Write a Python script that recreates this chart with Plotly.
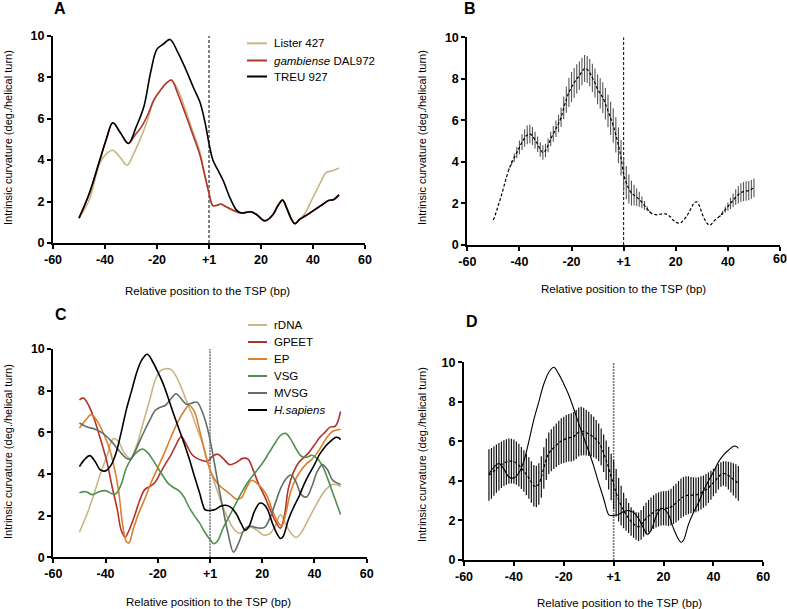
import plotly.graph_objects as go

W, H = 787, 609
FONT = "Liberation Sans, Arial, sans-serif"

# ---------------- Panel A data ----------------
treu_x = [-50,-46,-42,-39.5,-37,-34,-31,-28,-25,-22.5,-20,-17.5,-15,-12,-9,-6,-3.5,-1.5,0,1.5,3.5,5.5,8,10.5,12.5,14.5,16.5,18.5,21.5,24.5,26.5,28.3,30,31.5,33,35,37,40,43,46,48,50]
treu_y = [1.2,2.4,4.0,5.0,5.8,5.3,4.8,5.6,6.6,8.2,9.35,9.6,9.82,9.2,8.4,7.5,6.8,5.8,4.8,4.0,3.5,3.0,2.2,1.6,1.45,1.48,1.5,1.35,1.07,1.35,1.8,2.07,1.65,1.2,0.93,1.15,1.3,1.55,1.8,2.05,2.1,2.32]

lister_x = [-50,-46,-42,-39.5,-37,-34,-31.5,-29,-26.5,-24,-21.5,-19,-16.5,-14.5,-12,-9,-6,-3.5,-1.5,0,1.5,3,4.5,7,10.5,12.5,14.5,16.5,18.5,21.5,24.5,26.5,28.3,30,31.5,33,35,37,40,43,45,47.5,50]
lister_y = [1.2,2.1,3.85,4.3,4.47,4.1,3.75,4.3,5.0,5.8,6.8,7.3,7.7,7.86,7.4,6.4,5.3,4.4,3.2,2.4,1.8,1.8,1.87,1.7,1.5,1.45,1.48,1.5,1.35,1.07,1.35,1.8,2.07,1.65,1.2,0.93,1.15,1.45,2.2,2.95,3.4,3.48,3.62]

gamb_x = [-50,-46,-42,-39.5,-37,-34,-31,-28.5,-26,-23.5,-21,-18.5,-16.5,-14.5,-12,-9,-6,-3.5,-1.5,0,1.5,3,4.5,7,10.5,12.5,14.5,16.5,18.5,21.5,24.5,26.5,28.3,30,31.5,33,35,37,40,43,46,48,50]
gamb_y = [1.2,2.4,4.0,5.0,5.8,5.3,4.8,5.2,5.6,6.2,6.95,7.4,7.7,7.86,7.2,6.2,5.15,4.25,3.2,2.4,1.8,1.82,1.88,1.72,1.52,1.45,1.48,1.5,1.35,1.07,1.35,1.8,2.07,1.65,1.2,0.93,1.15,1.3,1.55,1.8,2.05,2.1,2.32]

# ---------------- Panel B data (mean +/- SEM, every bp) ----------------
pos_bp = list(range(-50, 51))
b_mean = [1.2,1.55,1.95,2.35,2.8,3.25,3.65,3.95,4.2,4.45,
          4.7,4.95,5.15,5.3,5.35,5.25,5.05,4.85,4.6,4.45,
          4.55,4.8,5.1,5.35,5.6,5.85,6.15,6.6,7.0,7.35,
          7.6,7.8,8.0,8.15,8.35,8.5,8.45,8.3,8.05,7.8,
          7.5,7.3,7.1,6.8,6.45,6.1,5.75,5.3,4.8,4.2,
          3.4,3.0,2.7,2.5,2.4,2.3,2.2,2.05,1.9,1.75,
          1.6,1.5,1.47,1.45,1.48,1.5,1.5,1.45,1.35,1.2,
          1.1,1.05,1.07,1.2,1.35,1.55,1.8,2.02,2.08,1.9,
          1.55,1.25,1.05,0.95,1.05,1.2,1.3,1.4,1.55,1.7,
          1.85,2.0,2.15,2.3,2.42,2.52,2.57,2.6,2.62,2.68,
          2.75]
b_sem = [0,0,0,0,0,0,0.05,0.12,0.2,0.27,
         0.33,0.38,0.42,0.45,0.45,0.43,0.4,0.37,0.35,0.35,
         0.33,0.33,0.35,0.38,0.4,0.42,0.47,0.55,0.63,0.7,
         0.73,0.72,0.7,0.68,0.66,0.65,0.65,0.66,0.68,0.7,
         0.72,0.73,0.74,0.76,0.78,0.8,0.83,0.85,0.86,0.85,
         0.82,0.8,0.7,0.6,0.5,0.42,0.36,0.28,0.22,0.12,
         0.05,0,0,0,0,0,0,0,0,0,
         0,0,0,0,0,0,0,0,0,0,
         0,0,0,0,0,0,0,0.05,0.1,0.15,
         0.2,0.27,0.33,0.38,0.42,0.45,0.46,0.47,0.46,0.45,
         0.45]

# ---------------- Panel C data ----------------
rdna_x = [-50,-47,-44.5,-42,-39.5,-37,-35,-33,-30.5,-28,-25.5,-23,-21,-19,-17,-15,-13,-11,-9,-7,-5,-3,-1.5,0,2.5,5,7.5,9.5,11.5,13.5,15.5,18,20.5,23,25,27,29,31,33,35,38,41,44,47,50]
rdna_y = [1.2,2.1,3.0,4.0,4.85,5.7,5.55,5.05,4.75,5.4,6.5,7.6,8.5,8.95,9.05,9.02,8.7,8.15,7.5,6.9,6.2,5.5,4.8,4.2,3.3,2.4,1.7,1.3,1.15,1.3,1.45,1.3,1.07,1.15,1.5,2.05,1.6,1.15,0.95,1.2,1.9,2.6,3.2,3.5,3.4]

gpeet_x = [-50,-48.5,-46.5,-44.5,-42,-39.5,-37.5,-35.5,-34,-32.5,-31,-29,-27,-25,-23,-21,-19,-17,-15,-13,-11,-9,-7,-5,-3,-1,1,3,5,7.5,10,12.5,14.5,16.5,18.5,21,23,25,27,28.5,30,32,34,36,38,40,42,44,46,48,50]
gpeet_y = [7.55,7.65,7.3,6.7,5.7,4.6,3.4,2.3,1.3,0.97,1.3,1.95,2.7,3.25,3.4,3.6,4.05,4.5,4.9,5.4,5.8,5.4,4.95,4.75,4.65,4.6,4.85,4.95,4.75,4.45,4.55,4.75,4.72,4.2,3.55,2.9,2.3,1.75,1.4,2.0,3.3,4.1,4.55,4.8,5.05,5.4,5.75,6.0,6.25,6.3,7.0]

ep_x = [-50,-47.5,-45.5,-43,-41,-39,-37,-35,-33.5,-32,-31,-29.5,-27.5,-25,-22.5,-20,-17.5,-15,-12.5,-10,-8,-6,-4,-2,0,2,4,6,8,10,12,14,16,18,20,22,24,26,27.5,29,31,33,35,37,39,41,43,45,47,50]
ep_y = [6.2,6.6,6.85,6.5,6.0,5.4,4.5,3.2,1.6,0.75,0.7,1.3,2.05,2.8,3.6,4.3,5.0,5.75,6.45,7.0,7.3,7.0,6.1,5.1,4.2,3.7,3.4,3.2,3.0,2.8,2.85,3.35,3.7,3.55,3.3,2.9,2.2,1.7,1.5,2.1,3.2,3.8,4.2,4.5,4.7,5.0,5.4,5.8,6.05,6.15]

vsg_x = [-50,-47.5,-45,-42.5,-40,-37.5,-36,-34,-32,-30,-28,-26,-24,-22,-20,-18,-16,-14,-12,-10,-8,-6,-4,-2,0,1.5,3,5,7.5,10,12.5,15,17.5,20,22.5,25,27,29,31,33,35,37,39,41,43,45,47,50]
vsg_y = [3.1,3.15,3.0,3.15,3.2,3.05,3.05,3.5,4.3,4.75,5.05,5.2,5.05,4.7,4.3,3.9,3.55,3.35,3.2,2.9,2.4,2.0,1.65,1.2,0.85,0.65,0.8,1.4,2.0,2.6,3.2,3.7,4.1,4.5,5.0,5.5,5.85,5.95,5.65,5.2,4.85,4.8,4.9,4.75,4.4,3.8,3.1,2.05]

mvsg_x = [-50,-47,-44,-41,-38,-36,-34,-32,-30.5,-29,-27,-25,-23,-21,-19,-17,-15,-13,-11,-9,-7,-5,-3,-1,1,3,5,7,9,11,13,15,17,19,21,23,25,27,29,31,33,35,37,39,41,43,45,47,50]
mvsg_y = [6.45,6.25,6.15,5.95,5.6,5.3,5.0,4.75,4.7,5.0,5.55,6.1,6.6,7.05,7.2,7.3,7.6,7.85,7.6,7.35,7.4,7.45,7.0,6.2,5.0,3.6,2.3,1.1,0.25,0.7,1.3,1.5,1.45,1.4,1.45,1.9,2.6,3.3,3.75,3.95,3.6,3.0,2.9,3.4,4.1,4.45,4.2,3.7,3.5]

hs_x = [-50,-48,-46,-44,-42,-40,-38,-36,-34,-32,-30,-28,-26,-24,-22,-20,-18,-16,-14,-12,-10,-8,-6,-4,-2,-1,0,2,4,6,8,10,12,13.5,15,17,19,20.5,22,24,26,27,28,30,32,34,36,38,40,42,44,46,48,49,50]
hs_y = [4.35,4.7,4.88,4.6,4.2,4.15,4.4,5.0,6.0,7.1,8.0,8.9,9.5,9.75,9.4,8.9,8.35,7.65,6.9,6.2,5.5,4.75,3.9,3.1,2.3,2.25,2.25,2.3,2.45,2.5,2.4,2.1,1.6,1.3,1.5,2.2,2.6,2.55,2.3,1.6,1.05,0.9,1.0,1.8,2.4,2.9,3.5,4.0,4.45,4.95,5.3,5.55,5.75,5.75,5.65]

# ---------------- Panel D data (mean +/- SEM of T. brucei promoters) ----------------
d_mean = [4.3,4.38,4.5,4.62,4.72,4.82,4.9,4.96,5.0,5.0,
          4.98,4.9,4.8,4.65,4.5,4.33,4.15,3.95,3.75,3.72,
          3.85,4.2,4.65,5.1,5.4,5.55,5.68,5.8,5.92,6.02,
          6.08,6.14,6.18,6.2,6.25,6.35,6.47,6.52,6.5,6.44,
          6.38,6.3,6.22,6.1,5.95,5.72,5.4,5.05,4.65,4.2,
          3.8,3.4,3.05,2.75,2.5,2.3,2.12,1.95,1.82,1.72,
          1.68,1.78,1.95,2.1,2.22,2.32,2.42,2.5,2.56,2.6,
          2.62,2.62,2.62,2.68,2.78,2.88,3.0,3.12,3.2,3.25,
          3.28,3.28,3.28,3.29,3.33,3.4,3.46,3.55,3.65,3.78,
          3.92,4.05,4.2,4.32,4.38,4.35,4.27,4.18,4.08,3.98,
          3.88]
d_sem = [1.3,1.28,1.25,1.22,1.2,1.18,1.16,1.15,1.14,1.13,
         1.12,1.1,1.08,1.06,1.05,1.05,1.05,1.05,1.05,1.05,
         1.05,1.05,1.05,1.05,1.05,1.06,1.08,1.1,1.12,1.15,
         1.17,1.19,1.2,1.22,1.23,1.24,1.24,1.23,1.2,1.16,
         1.12,1.07,1.02,0.98,0.95,0.93,0.95,1.0,1.08,1.18,
         1.25,1.2,1.1,1.0,0.9,0.82,0.76,0.72,0.7,0.7,
         0.72,0.75,0.78,0.8,0.82,0.84,0.85,0.86,0.86,0.86,
         0.86,0.87,0.9,0.93,0.96,0.98,1.0,1.0,1.0,0.98,
         0.95,0.92,0.9,0.88,0.86,0.84,0.82,0.8,0.77,0.73,
         0.7,0.67,0.64,0.62,0.62,0.65,0.7,0.76,0.82,0.86,
         0.88]

# ---------------- Labels ----------------
x_tickvals = [-60, -40, -20, 0, 20, 40, 60]
x_ticktext = ["-60", "-40", "-20", "+1", "20", "40", "60"]
y_tickvals = [0, 2, 4, 6, 8, 10]
x_title = "Relative position to the TSP (bp)"
y_title = "Intrinsic curvature (deg./helical turn)"

names_a = ["Lister 427", "<i>gambiense</i> DAL972", "TREU 927"]
colors_a = ["#c9b585", "#b3322c", "#000000"]
names_c = ["rDNA", "GPEET", "EP", "VSG", "MVSG", "<i>H.sapiens</i>"]
colors_c = ["#c9b585", "#b3322c", "#dc7f2a", "#4f8f4f", "#5f6f66", "#000000"]

fig = go.Figure()

def spl(x, y, name, color, xa, ya, width=1.6):
    fig.add_trace(go.Scatter(
        x=x, y=y, name=name, mode="lines",
        line=dict(color=color, width=width, shape="spline", smoothing=1.0),
        xaxis=xa, yaxis=ya, showlegend=False))

# Panel A
for (xs, ys), nm, col in zip([(lister_x, lister_y), (gamb_x, gamb_y), (treu_x, treu_y)], names_a, colors_a):
    spl(xs, ys, nm, col, "x", "y")

# Panel B
fig.add_trace(go.Scatter(
    x=pos_bp, y=b_mean, mode="lines", showlegend=False, name="mean",
    line=dict(color="black", width=1.2, dash="3px,2px", shape="spline"),
    error_y=dict(type="data", array=b_sem, visible=True, color="#555555", thickness=1.1, width=0),
    xaxis="x2", yaxis="y2"))

# Panel C
series_c = [(rdna_x, rdna_y), (gpeet_x, gpeet_y), (ep_x, ep_y), (vsg_x, vsg_y), (mvsg_x, mvsg_y), (hs_x, hs_y)]
for (xs, ys), nm, col in zip(series_c, names_c, colors_c):
    spl(xs, ys, nm, col, "x3", "y3")

# Panel D
fig.add_trace(go.Scatter(
    x=pos_bp, y=d_mean, mode="lines", showlegend=False, name="mean",
    line=dict(color="black", width=1.2, dash="3px,2px", shape="spline"),
    error_y=dict(type="data", array=d_sem, visible=True, color="#111111", thickness=1.2, width=0),
    xaxis="x4", yaxis="y4"))
spl(hs_x, hs_y, "H.sapiens", "#000000", "x4", "y4", width=1.1)

def px_x(p):
    return p / W

def px_y(p):
    return 1 - p / H

panels = {
    "1": dict(x0=53, x1=365, y0=243, y1=35.7),
    "2": dict(x0=467.3, x1=780, y0=245, y1=37.3),
    "3": dict(x0=53.3, x1=366.7, y0=557.3, y1=349),
    "4": dict(x0=464, x1=763.3, y0=560, y1=362.3),
}

tickfont = dict(family=FONT, size=12.5, color="black", weight="bold")
layout = dict(
    width=W, height=H, margin=dict(l=0, r=0, t=0, b=0, autoexpand=False),
    paper_bgcolor="white", plot_bgcolor="white",
    font=dict(family=FONT, color="black"), showlegend=False,
)
for k, p in panels.items():
    sfx = "" if k == "1" else k
    layout["xaxis" + sfx] = dict(
        domain=[px_x(p["x0"]), px_x(p["x1"])], range=[-60, 60], automargin=False,
        anchor="y" + sfx, tickvals=x_tickvals, ticktext=x_ticktext,
        showline=True, linecolor="black", linewidth=2, mirror=False,
        ticks="outside", ticklen=4, tickwidth=2, tickcolor="black",
        ticklabelposition="outside", ticklabeloverflow="allow",
        showgrid=False, zeroline=False, tickfont=tickfont, fixedrange=True)
    layout["yaxis" + sfx] = dict(
        domain=[px_y(p["y0"]), px_y(p["y1"])], range=[0, 10], automargin=False,
        anchor="x" + sfx, tickvals=y_tickvals,
        showline=True, linecolor="black", linewidth=2, mirror=False,
        ticks="outside", ticklen=4, tickwidth=2, tickcolor="black",
        ticklabelposition="outside", ticklabeloverflow="allow",
        showgrid=False, zeroline=False, tickfont=tickfont, fixedrange=True)

# panel B's right-most tick label runs past the page edge (clipped in the original too)
layout["xaxis2"]["ticktext"] = x_ticktext[:-1] + [""]

fig.update_layout(**layout)

fig.add_annotation(text=x_ticktext[-1], x=x_tickvals[-1], xref="x2", y=px_y(259), yref="paper",
                   xanchor="center", yanchor="middle", showarrow=False, font=tickfont)

# vertical TSP markers
for k, col, dash, wd in [("", "black", "3px,2px", 1), ("2", "black", "3px,2px", 1),
                         ("3", "#777777", "2px,1px", 1.6), ("4", "#777777", "2px,1px", 1.6)]:
    fig.add_shape(type="line", xref="x" + k, yref="y" + k, x0=0, x1=0, y0=0, y1=10,
                  line=dict(color=col, width=wd, dash=dash), layer="below")

# legends (line sample + text)
def legend(names, colors, rows_px, line_x0=247, line_x1=267, text_x=272):
    for nm, col, ry in zip(names, colors, rows_px):
        fig.add_shape(type="line", xref="paper", yref="paper",
                      x0=px_x(line_x0), x1=px_x(line_x1), y0=px_y(ry), y1=px_y(ry),
                      line=dict(color=col, width=2))
        fig.add_annotation(text=nm, x=px_x(text_x), y=px_y(ry), xref="paper", yref="paper",
                           xanchor="left", yanchor="middle", showarrow=False,
                           font=dict(family=FONT, size=11.5, color="black"))

legend(names_a, colors_a, [43.3, 60.5, 76.5])
legend(names_c, colors_c, [325, 342, 359, 376, 393, 410], line_x0=248)

# panel letters and axis titles
letters = [("A", 60, 9), ("B", 470, 9), ("C", 61, 314), ("D", 472, 321)]
for t, x, y in letters:
    fig.add_annotation(text="<b>%s</b>" % t, x=px_x(x), y=px_y(y), xref="paper", yref="paper",
                       xanchor="center", yanchor="middle",
                       showarrow=False, font=dict(family=FONT, size=16, color="black"))

ytitles = [(8, 138), (422, 138), (8, 452), (422, 455)]
for x, y in ytitles:
    fig.add_annotation(text=y_title, x=px_x(x), y=px_y(y), xref="paper", yref="paper",
                       xanchor="center", yanchor="middle",
                       showarrow=False, textangle=-90,
                       font=dict(family=FONT, size=11, color="black"))

xtitles = [(207, 291), (623, 289), (208, 602), (619, 603)]
for x, y in xtitles:
    fig.add_annotation(text=x_title, x=px_x(x), y=px_y(y), xref="paper", yref="paper",
                       xanchor="center", yanchor="middle",
                       showarrow=False, font=dict(family=FONT, size=11.5, color="black"))

fig.write_html("out.html", config={"displayModeBar": False, "staticPlot": True},
               post_script="document.body.style.margin='0px';document.body.style.overflow='hidden';")
